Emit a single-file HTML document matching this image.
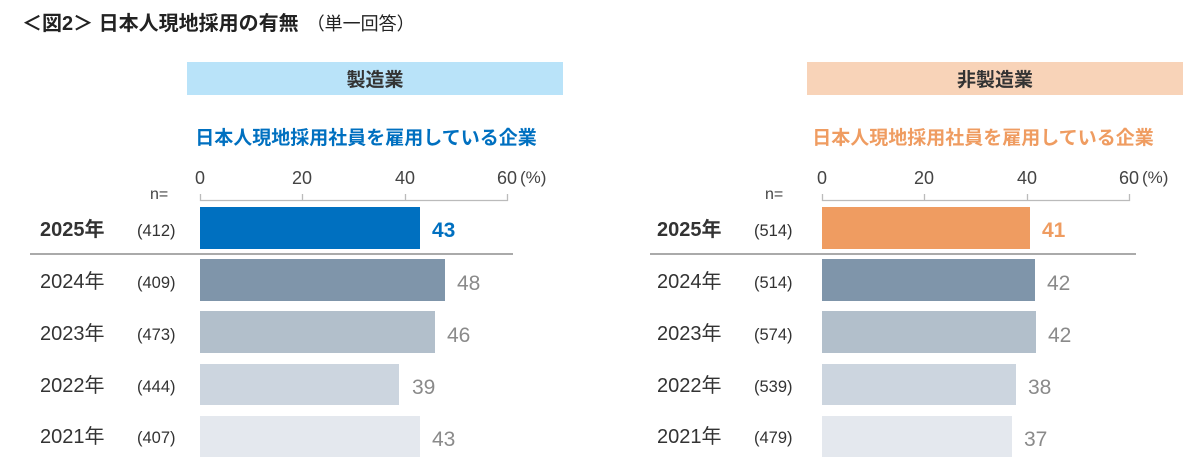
<!DOCTYPE html>
<html><head><meta charset="utf-8"><style>
body{margin:0;width:1200px;height:463px;background:#fff;overflow:hidden}
svg text{font-family:"Liberation Sans","Noto Sans CJK JP",sans-serif}
</style></head><body>
<svg width="1200" height="463" xmlns="http://www.w3.org/2000/svg">
<text x="22" y="30" font-size="20" font-weight="bold" fill="#222">＜図2＞ 日本人現地採用の有無<tspan font-size="18" font-weight="normal" dx="8">（単一回答）</tspan></text>

<!-- left -->
<rect x="187" y="62" width="376" height="33" fill="#b9e3f9"/>
<text x="375" y="86" font-size="19" font-weight="bold" fill="#333" text-anchor="middle">製造業</text>
<text x="366" y="144" font-size="19" font-weight="bold" fill="#0070c0" text-anchor="middle">日本人現地採用社員を雇用している企業</text>
<g font-size="18" fill="#444" text-anchor="middle">
<text x="200" y="184">0</text><text x="302" y="184">20</text><text x="405" y="184">40</text><text x="507" y="184">60</text></g>
<text x="520" y="183" font-size="17" fill="#444">(%)</text>
<text x="150" y="199" font-size="16" fill="#444">n=</text>
<path d="M200.5 194V200.5H507.5V194M302.5 194V200M405.5 194V200" stroke="#bbb" stroke-width="1.3" fill="none"/>
<line x1="30" y1="254" x2="513" y2="254" stroke="#aaa" stroke-width="2"/>
<rect x="200" y="207" width="220" height="42" fill="#0070c0"/>
<rect x="200" y="259" width="245" height="42" fill="#7f95aa"/>
<rect x="200" y="311" width="235" height="42" fill="#b2bfcb"/>
<rect x="200" y="364" width="199" height="41" fill="#ccd5df"/>
<rect x="200" y="416" width="220" height="41" fill="#e4e8ee"/>
<g font-size="20" fill="#333">
<text x="40" y="236" font-weight="bold">2025年</text>
<text x="40" y="288">2024年</text><text x="40" y="340">2023年</text>
<text x="40" y="392">2022年</text><text x="40" y="443">2021年</text></g>
<g font-size="16.5" fill="#333">
<text x="137" y="236">(412)</text><text x="137" y="288">(409)</text><text x="137" y="340">(473)</text>
<text x="137" y="392">(444)</text><text x="137" y="443">(407)</text></g>
<text x="432" y="237" font-size="21" font-weight="bold" fill="#0070c0">43</text>
<g font-size="21" fill="#8a8a8a">
<text x="457" y="290">48</text><text x="447" y="342">46</text><text x="412" y="394">39</text><text x="432" y="446">43</text></g>

<!-- right -->
<rect x="807" y="62" width="376" height="33" fill="#f8d3b8"/>
<text x="995" y="86" font-size="19" font-weight="bold" fill="#333" text-anchor="middle">非製造業</text>
<text x="983" y="144" font-size="19" font-weight="bold" fill="#ef9c61" text-anchor="middle">日本人現地採用社員を雇用している企業</text>
<g font-size="18" fill="#444" text-anchor="middle">
<text x="822" y="184">0</text><text x="924" y="184">20</text><text x="1027" y="184">40</text><text x="1129" y="184">60</text></g>
<text x="1142" y="183" font-size="17" fill="#444">(%)</text>
<text x="765" y="199" font-size="16" fill="#444">n=</text>
<path d="M822.5 194V200.5H1129.5V194M924.5 194V200M1027.5 194V200" stroke="#bbb" stroke-width="1.3" fill="none"/>
<line x1="650" y1="254" x2="1136" y2="254" stroke="#aaa" stroke-width="2"/>
<rect x="822" y="207" width="208" height="42" fill="#ef9c61"/>
<rect x="822" y="259" width="213" height="42" fill="#7f95aa"/>
<rect x="822" y="311" width="214" height="42" fill="#b2bfcb"/>
<rect x="822" y="364" width="194" height="41" fill="#ccd5df"/>
<rect x="822" y="416" width="190" height="41" fill="#e4e8ee"/>
<g font-size="20" fill="#333">
<text x="657" y="236" font-weight="bold">2025年</text>
<text x="657" y="288">2024年</text><text x="657" y="340">2023年</text>
<text x="657" y="392">2022年</text><text x="657" y="443">2021年</text></g>
<g font-size="16.5" fill="#333">
<text x="754" y="236">(514)</text><text x="754" y="288">(514)</text><text x="754" y="340">(574)</text>
<text x="754" y="392">(539)</text><text x="754" y="443">(479)</text></g>
<text x="1042" y="237" font-size="21" font-weight="bold" fill="#ef9c61">41</text>
<g font-size="21" fill="#8a8a8a">
<text x="1047" y="290">42</text><text x="1048" y="342">42</text><text x="1028" y="394">38</text><text x="1024" y="446">37</text></g>
</svg>
</body></html>
